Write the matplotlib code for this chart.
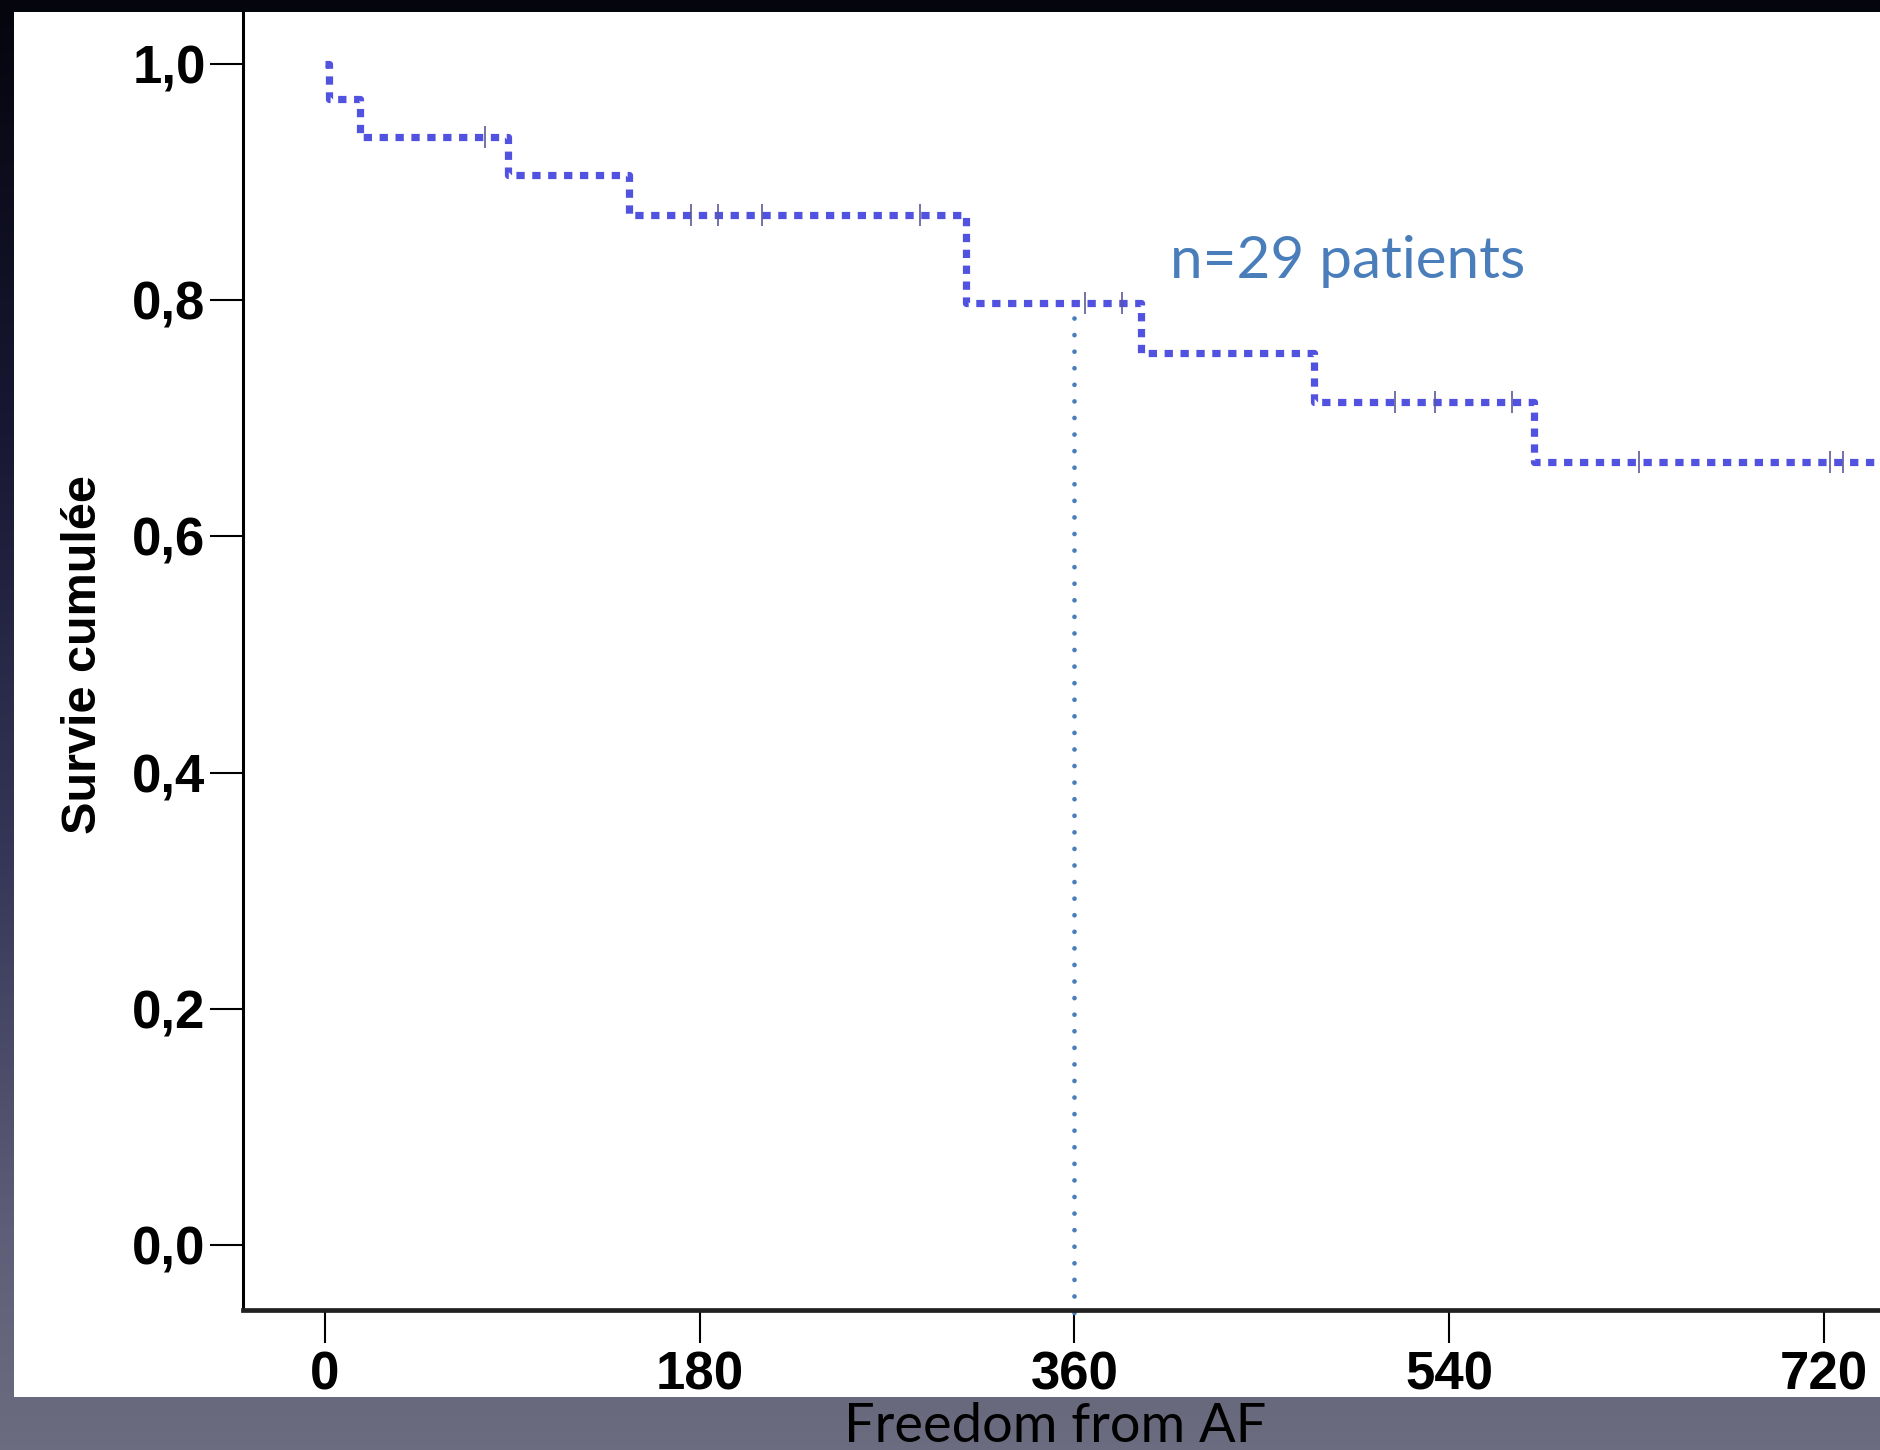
import numpy as np
import matplotlib
matplotlib.use("Agg")
import matplotlib.pyplot as plt
from matplotlib.patches import Rectangle
from matplotlib.colors import LinearSegmentedColormap

# === Kaplan-Meier data ===
event_times = [0, 2, 17, 88, 146, 308, 392, 475, 581, 760]
survival = [1.0, 0.970, 0.938, 0.906, 0.872, 0.798, 0.755, 0.714, 0.663, 0.663]

censor_times = [77, 176, 189, 210, 286, 365, 383, 514, 533, 570, 631, 723, 729]
censor_surv = [0.938, 0.872, 0.872, 0.872, 0.872, 0.798, 0.798,
               0.714, 0.714, 0.714, 0.663, 0.663, 0.663]

median_x = 360
median_top = 0.785

x_ticks = [0, 180, 360, 540, 720]
y_ticks = [0.0, 0.2, 0.4, 0.6, 0.8, 1.0]
y_tick_labels = ["0,0", "0,2", "0,4", "0,6", "0,8", "1,0"]

W, H = 1880, 1450
fig = plt.figure(figsize=(W / 100, H / 100), dpi=100)

# === Slide background: dark gradient ===
bg = fig.add_axes([0, 0, 1, 1], zorder=-10)
cmap = LinearSegmentedColormap.from_list(
    "slide", [(0.0, "#05050d"), (0.3, "#181834"), (0.6, "#373759"),
              (0.85, "#5e5e78"), (1.0, "#6c6c80")])
grad = np.linspace(0, 1, 256).reshape(-1, 1)
bg.imshow(grad, aspect="auto", cmap=cmap, extent=[0, 1, 1, 0])
bg.set_xlim(0, 1)
bg.set_ylim(1, 0)
bg.axis("off")

# white panel of the pasted chart
fig.patches.append(Rectangle((14 / W, 1 - 1397 / H), 1 - 14 / W, (1397 - 12) / H,
                             transform=fig.transFigure, facecolor="white",
                             edgecolor="none", zorder=-5))

ax = fig.add_axes([243 / W, 1 - 1310 / H, 1 - 243 / W, (1310 - 12) / H])
ax.set_facecolor("none")

# === Survival curve ===
ax.step(event_times, survival, where="post", color="#5252e0", lw=5.2,
        linestyle=(0, (1.15, 1.05)))
ax.plot(censor_times, censor_surv, linestyle="none", marker="|",
        markersize=16, markeredgewidth=1.2, color="#5a5a96")

# median line at 360 days
ax.plot([median_x, median_x], [median_top, -0.06], color="#4a7ebb", lw=3.4,
        linestyle=(0, (0.01, 3.5)), dash_capstyle="round", clip_on=False)

ax.set_xlim(-39.4, 747)
ax.set_ylim(-0.055, 1.044)

ax.spines["top"].set_visible(False)
ax.spines["right"].set_visible(False)
ax.spines["left"].set_linewidth(2.2)
ax.spines["bottom"].set_linewidth(3.4)
ax.spines["bottom"].set_color("#222222")

ax.set_xticks(x_ticks)
ax.set_xticklabels([str(t) for t in x_ticks])
ax.set_yticks(y_ticks)
ax.set_yticklabels(y_tick_labels)
ax.tick_params(axis="both", direction="out", length=24, width=1.5, color="black")
ax.tick_params(axis="y", pad=3)
ax.tick_params(axis="x", pad=5)
for lab in ax.get_xticklabels() + ax.get_yticklabels():
    lab.set_fontfamily("Liberation Sans")
    lab.set_fontweight("bold")
    lab.set_fontsize(38)

# === Texts ===
fig.text(84 / W, 1 - 655 / H, "Survie cumulée", rotation=90, ha="center",
         va="center", fontsize=35, fontweight="bold", family="Liberation Sans")
fig.text(1170 / W, 1 - 278 / H, "n=29 patients", ha="left", va="baseline",
         fontsize=42, color="#4a7ebb", family="Lato")
fig.text(1055 / W, 1 - 1427 / H, "Freedom from AF", ha="center", va="center",
         fontsize=39, color="black", family="Lato")

fig.savefig("out.png", dpi=100)
